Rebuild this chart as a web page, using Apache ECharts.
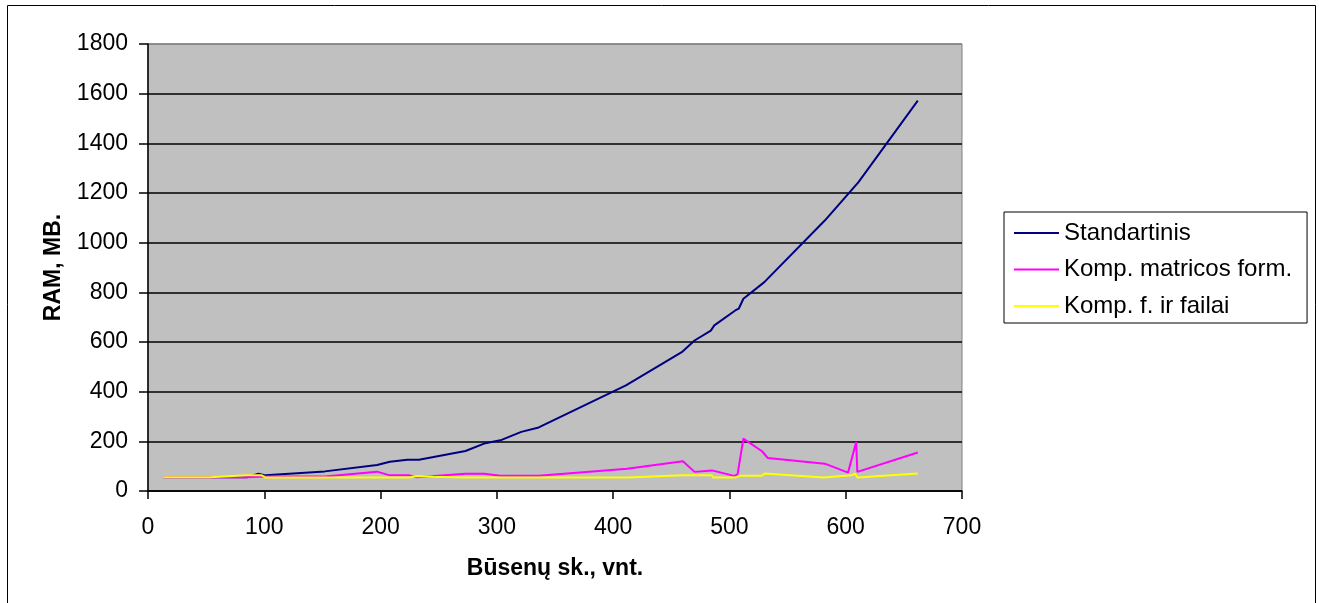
<!DOCTYPE html>
<html>
<head>
<meta charset="utf-8">
<script src="https://cdn.jsdelivr.net/npm/echarts@6/dist/echarts.min.js"></script>
<style>
html,body{margin:0;padding:0;background:#fff;}
#chart{width:1319px;height:603px;}
</style>
</head>
<body>
<div id="chart"></div>
<script>
const seriesNames = ['Standartinis', 'Komp. matricos form.', 'Komp. f. ir failai'];

const stdX = [13, 85, 95, 101, 152, 197, 208, 223, 233, 273, 289, 303, 321, 336, 411, 459, 470, 484, 487, 505, 508, 512, 530, 582, 611, 662];
const stdY = [55, 55, 70, 63, 79, 105, 118, 126, 126, 161, 191, 204, 238, 256, 425, 559, 606, 646, 667, 727, 734, 774, 841, 1089, 1244, 1572];

const matX = [13, 85, 101, 152, 197, 208, 225, 231, 273, 289, 303, 336, 412, 460, 470, 485, 504, 507, 512, 528, 533, 582, 602, 609, 610, 662];
const matY = [55, 55, 58, 58, 78, 63, 63, 55, 69, 69, 61, 61, 90, 120, 77, 83, 61, 67, 211, 160, 133, 110, 74, 197, 77, 155];

const failX = [13, 53, 85, 98, 101, 225, 231, 245, 273, 412, 460, 485, 486, 505, 509, 528, 530, 581, 605, 608, 610, 662];
const failY = [55, 55, 63, 63, 54, 54, 60, 57, 54, 54, 63, 63, 54, 54, 61, 61, 70, 54, 63, 70, 54, 70];

const xTitle = 'Būsenų sk., vnt.';
const yTitle = 'RAM, MB.';

function pairs(xs, ys) { return xs.map((x, i) => [x, ys[i]]); }

const FONT = '"Liberation Sans", Arial, sans-serif';
const chart = echarts.init(document.getElementById('chart'), null, {renderer: 'canvas'});

const splitColors = ['#000','#000','#000','#000','#000','#000','#000','#000','#000','#808080'];

chart.setOption({
  animation: false,
  backgroundColor: '#fff',
  textStyle: {fontFamily: FONT, color: '#000'},
  graphic: [{
    type: 'rect',
    shape: {x: 7.5, y: 5.5, width: 1308, height: 620},
    style: {fill: 'none', stroke: '#000', lineWidth: 1},
    silent: true
  }],
  grid: {
    left: 148, right: 357, top: 44, bottom: 112,
    show: true, backgroundColor: '#C0C0C0', borderColor: '#808080', borderWidth: 1
  },
  legend: {
    orient: 'vertical',
    left: 1004, top: 212,
    backgroundColor: '#fff',
    borderColor: '#000', borderWidth: 1,
    padding: [8, 15, 4, 10],
    icon: 'rect',
    itemWidth: 45, itemHeight: 2, itemGap: 10.5,
    textStyle: {fontFamily: FONT, fontSize: 24, color: '#000', lineHeight: 26},
    data: seriesNames
  },
  xAxis: {
    type: 'value', min: 0, max: 700, interval: 100,
    name: xTitle, nameLocation: 'middle', nameGap: 66,
    nameTextStyle: {fontFamily: FONT, fontSize: 23, fontWeight: 'bold', color: '#000'},
    axisLine: {show: true, onZero: false, lineStyle: {color: '#000', width: 1.5}},
    axisTick: {show: true, inside: false, length: 8, lineStyle: {color: '#000', width: 1.5}},
    axisLabel: {fontFamily: FONT, fontSize: 23, color: '#000', margin: 25, formatter: v => String(v)},
    splitLine: {show: false}
  },
  yAxis: {
    type: 'value', min: 0, max: 1800, interval: 200,
    name: yTitle, nameLocation: 'middle', nameGap: 83,
    nameTextStyle: {fontFamily: FONT, fontSize: 23, fontWeight: 'bold', color: '#000'},
    axisLine: {show: true, lineStyle: {color: '#000', width: 1.5}},
    axisTick: {show: true, inside: false, length: 9, lineStyle: {color: '#000', width: 1.5}},
    axisLabel: {fontFamily: FONT, fontSize: 23, color: '#000', margin: 20, formatter: v => String(v)},
    splitLine: {show: true, lineStyle: {color: splitColors, width: 1.5}}
  },
  series: [
    {name: seriesNames[0], type: 'line', symbol: 'none', data: pairs(stdX, stdY),
     lineStyle: {color: '#000080', width: 2}, itemStyle: {color: '#000080'}},
    {name: seriesNames[1], type: 'line', symbol: 'none', data: pairs(matX, matY),
     lineStyle: {color: '#FF00FF', width: 2}, itemStyle: {color: '#FF00FF'}},
    {name: seriesNames[2], type: 'line', symbol: 'none', data: pairs(failX, failY),
     lineStyle: {color: '#FFFF00', width: 2}, itemStyle: {color: '#FFFF00'}}
  ]
});
</script>
</body>
</html>
